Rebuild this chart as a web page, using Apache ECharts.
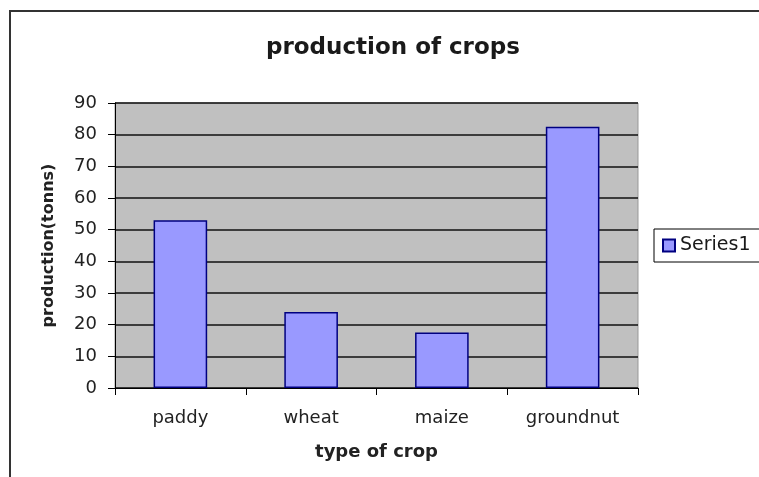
<!DOCTYPE html>
<html>
<head>
<meta charset="utf-8">
<script src="https://cdn.jsdelivr.net/npm/echarts@6/dist/echarts.min.js"></script>
<style>
html,body{margin:0;padding:0;background:#fff;}
#chart{width:759px;height:477px;}
</style>
</head>
<body>
<div id="chart"></div>
<script>
const categories = ['paddy', 'wheat', 'maize', 'groundnut'];
const series1 = [53, 24, 17.5, 82.5];
const yTicks = { min: 0, max: 90, interval: 10 };

const chart = echarts.init(document.getElementById('chart'), null, { renderer: 'canvas' });
const font = '"DejaVu Sans", sans-serif';
chart.setOption({
  animation: false,
  backgroundColor: '#fff',
  textStyle: { fontFamily: font },
  graphic: [{
    type: 'rect',
    shape: { x: 10, y: 11, width: 780, height: 500 },
    style: { fill: 'none', stroke: '#333', lineWidth: 2 },
    silent: true, z: -10
  }],
  title: {
    text: 'production of crops',
    left: 261,
    top: 32,
    textStyle: { fontFamily: font, fontSize: 23, fontWeight: 'bold', color: '#1a1a1a' }
  },
  legend: {
    data: ['Series1'],
    left: 654,
    top: 229,
    orient: 'vertical',
    borderColor: '#000',
    borderWidth: 1,
    borderRadius: 0,
    padding: [7, 40, 7, 8],
    itemWidth: 12,
    itemHeight: 12,
    itemGap: 4,
    icon: 'rect',
    textStyle: { fontFamily: font, fontSize: 19, color: '#1a1a1a' }
  },
  grid: {
    left: 115, right: 121, top: 103, bottom: 89,
    show: true, backgroundColor: '#c0c0c0', borderColor: '#999', borderWidth: 1
  },
  xAxis: {
    type: 'category',
    data: categories,
    name: 'type of crop',
    nameLocation: 'middle',
    nameGap: 55,
    nameTextStyle: { fontFamily: font, fontSize: 18, fontWeight: 'bold', color: '#222' },
    axisLine: { lineStyle: { color: '#000', width: 1 } },
    axisTick: { show: true, length: 7, inside: false, lineStyle: { color: '#000' } },
    axisLabel: { margin: 21, fontFamily: font, fontSize: 18, color: '#222' }
  },
  yAxis: {
    type: 'value',
    min: yTicks.min, max: yTicks.max, interval: yTicks.interval,
    name: 'production(tonns)',
    nameLocation: 'middle',
    nameGap: 58,
    nameTextStyle: { fontFamily: font, fontSize: 16, fontWeight: 'bold', color: '#222' },
    axisLine: { show: true, lineStyle: { color: '#000', width: 1 } },
    axisTick: { show: true, length: 7, lineStyle: { color: '#000' } },
    axisLabel: { margin: 18, fontFamily: font, fontSize: 18, color: '#222' },
    splitLine: { show: true, lineStyle: { color: '#111', width: 1.5 } }
  },
  series: [{
    name: 'Series1',
    type: 'bar',
    data: series1,
    barWidth: '41%',
    itemStyle: { color: '#9999ff', borderColor: '#000080', borderWidth: 1.5 }
  }]
});
</script>
</body>
</html>
